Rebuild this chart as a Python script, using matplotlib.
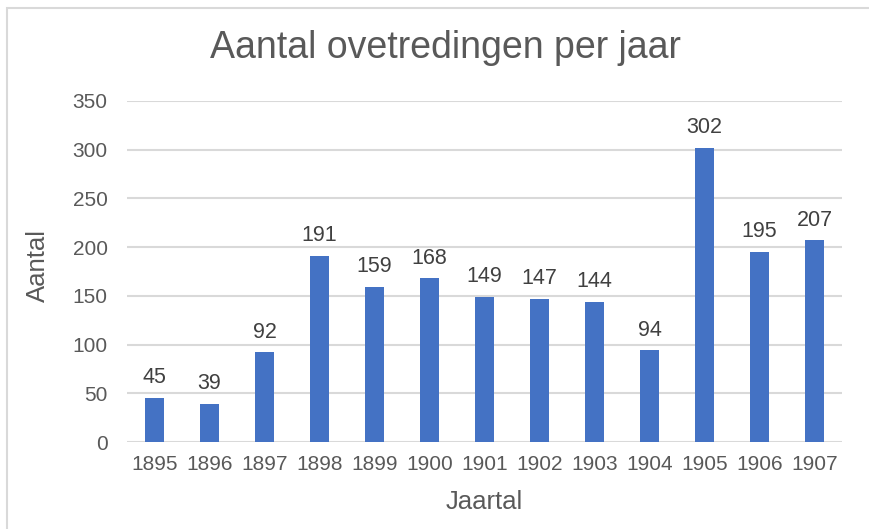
import matplotlib.pyplot as plt
from matplotlib.patches import Rectangle

# jaartallen en aantallen overtredingen
jaren = ['1895', '1896', '1897', '1898', '1899', '1900', '1901',
         '1902', '1903', '1904', '1905', '1906', '1907']
aantal = [45, 39, 92, 191, 159, 168, 149, 147, 144, 94, 302, 195, 207]
y_ticks = [0, 50, 100, 150, 200, 250, 300, 350]

plt.rcParams['font.family'] = ['Liberation Sans', 'DejaVu Sans']

fig = plt.figure(figsize=(8.69, 5.29), dpi=100)
ax = fig.add_axes([127/869, 1-442/529, 715/869, 341/529])

x = range(len(jaren))
bars = ax.bar(x, aantal, width=0.33, color='#4472C4', zorder=3)

# waarden boven de staven
for xi, v in zip(x, aantal):
    ax.annotate(str(v), (xi, v), xytext=(0, 7), textcoords='offset points',
                ha='center', va='bottom', fontsize=15.5, color='#404040')

ax.set_xlim(-0.5, len(jaren) - 0.5)
ax.set_ylim(0, 350)
ax.set_yticks(y_ticks)
ax.set_xticks(list(x))
ax.set_xticklabels(jaren)
ax.tick_params(length=0, labelsize=15, labelcolor='#595959', pad=9)
ax.tick_params(axis='y', pad=14)
ax.grid(axis='y', color='#D9D9D9', lw=1.5, zorder=0)
for s in ax.spines.values():
    s.set_visible(False)

fig.text(445/869, 1-48/529, 'Aantal ovetredingen per jaar', ha='center', va='center',
         fontsize=27, color='#595959')
fig.text(38/869, 1-265/529, 'Aantal', rotation=90, ha='center', va='center',
         fontsize=18.5, color='#595959')
fig.text(484/869, 1-502/529, 'Jaartal', ha='center', va='center',
         fontsize=18.5, color='#595959')

# lichte rand van het grafiekgebied
fig.patches.append(Rectangle((7/869, -0.1), 1.2, 1 - 8/529 + 0.1, transform=fig.transFigure,
                             fill=False, edgecolor='#D9D9D9', lw=1.5))

fig.savefig('out.png', dpi=100)
